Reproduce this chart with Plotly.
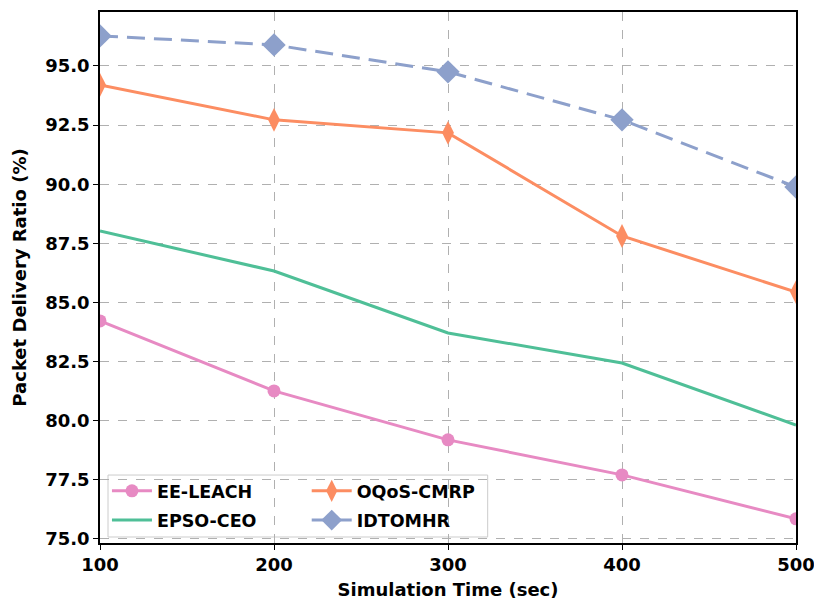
import plotly.graph_objects as go

x_vals = [100, 200, 300, 400, 500]
ee_leach = [84.22, 81.26, 79.19, 77.71, 75.85]
epso_ceo = [88.02, 86.33, 83.71, 82.44, 79.82]
oqos_cmrp = [94.20, 92.72, 92.17, 87.81, 85.44]
idtomhr = [96.27, 95.89, 94.75, 92.72, 89.88]
y_ticks = [75.0, 77.5, 80.0, 82.5, 85.0, 87.5, 90.0, 92.5, 95.0]

PINK = "#e78ac3"
GREEN = "#4fbf97"
ORANGE = "#fc8d62"
BLUE = "#8da0cb"
FONT = "DejaVu Sans"

fig = go.Figure()
fig.add_trace(go.Scatter(x=x_vals, y=ee_leach, name="EE-LEACH", mode="lines+markers",
                         line=dict(color=PINK, width=3), marker=dict(symbol="circle", size=13),
                         legend="legend"))
fig.add_trace(go.Scatter(x=x_vals, y=epso_ceo, name="EPSO-CEO", mode="lines",
                         line=dict(color=GREEN, width=3), legend="legend3"))
fig.add_trace(go.Scatter(x=x_vals, y=oqos_cmrp, name="OQoS-CMRP", mode="lines+markers",
                         line=dict(color=ORANGE, width=3), marker=dict(symbol="diamond-tall", size=17),
                         legend="legend2"))
fig.add_trace(go.Scatter(x=x_vals, y=idtomhr, name="IDTOMHR", mode="lines+markers",
                         line=dict(color=BLUE, width=3, dash="18px,9px"), marker=dict(symbol="diamond", size=18),
                         legend="legend4"))

axis_common = dict(
    showline=True, linecolor="black", linewidth=1.5, mirror=True,
    showgrid=True, gridcolor="#b0b0b0", griddash="dash", gridwidth=1,
    ticks="outside", ticklen=5, tickcolor="black",
    tickfont=dict(family=FONT, size=18, color="black", weight="bold"),
    zeroline=False, automargin=False, ticklabeloverflow="allow",
)

fig.update_xaxes(range=[100, 500], tickvals=x_vals,
                 title=dict(text="<b>Simulation Time (sec)</b>", font=dict(family=FONT, size=18, color="black"), standoff=9),
                 **axis_common)
fig.update_yaxes(range=[74.83, 97.28], tickvals=y_ticks, tickformat=".1f",
                 title=dict(text="<b>Packet Delivery Ratio (%)</b>", font=dict(family=FONT, size=18, color="black"), standoff=14),
                 **axis_common)

legend_common = dict(bgcolor="rgba(0,0,0,0)", borderwidth=0,
                     font=dict(family=FONT, size=17.5, color="black", weight="bold"),
                     xanchor="left", yanchor="middle", itemwidth=40, tracegroupgap=0)
row1, row2 = 0.098, 0.043
col1, col2 = 0.01, 0.297
fig.update_layout(
    legend=dict(x=col1, y=row1, **legend_common),
    legend3=dict(x=col1, y=row2, **legend_common),
    legend2=dict(x=col2, y=row1, **legend_common),
    legend4=dict(x=col2, y=row2, **legend_common),
    shapes=[dict(type="rect", xref="paper", yref="paper", x0=0.0115, x1=0.557, y0=0.0113, y1=0.128,
                 line=dict(color="#cccccc", width=1), fillcolor="rgba(255,255,255,0.8)", layer="below")],
    width=814, height=601,
    margin=dict(l=100, r=18, t=12, b=58, autoexpand=False),
    plot_bgcolor="white", paper_bgcolor="white",
    showlegend=True,
)

fig.write_html("out.html")
